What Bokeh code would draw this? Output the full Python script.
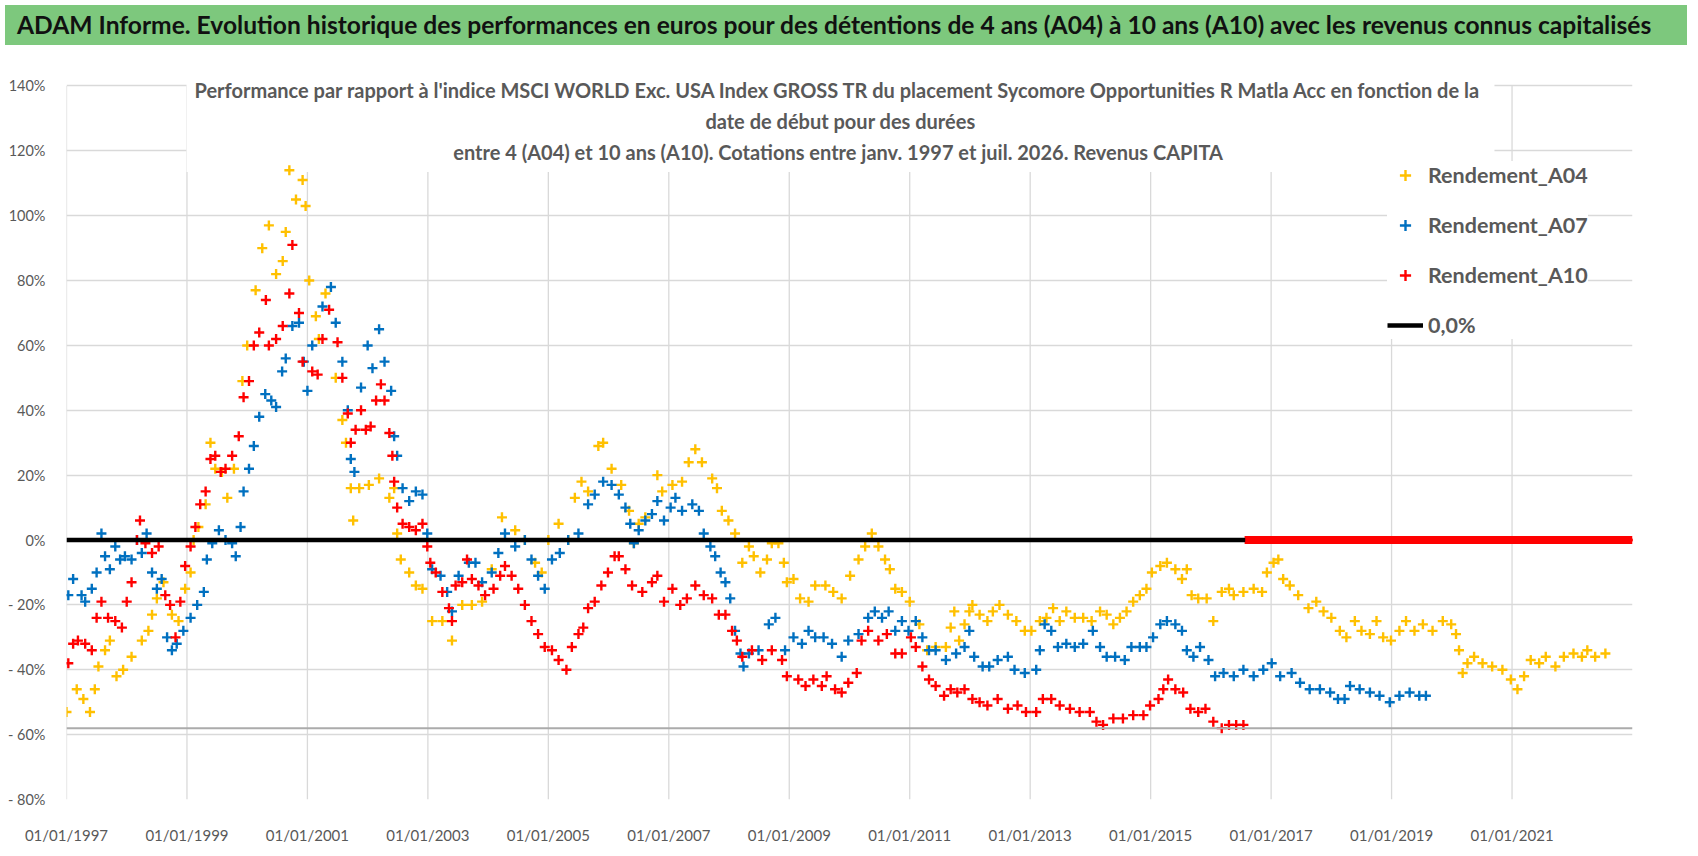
from bokeh.plotting import figure
from bokeh.layouts import column
from bokeh.models import Div, Label, Legend, LegendItem, Range1d, Span
from bokeh.embed import file_html
from bokeh.resources import INLINE

# ---- texts ----
title_text = ("ADAM Informe. Evolution historique des performances en euros pour des détentions "
              "de 4 ans (A04) à 10 ans (A10) avec les revenus connus capitalisés")
subtitle_lines = [
    "Performance par rapport à l'indice MSCI WORLD Exc. USA Index GROSS TR  du placement "
    "Sycomore Opportunities R Matla Acc en fonction de la",
    "date de début pour des durées",
    "entre 4 (A04) et 10 ans (A10).  Cotations entre janv. 1997 et juil. 2026. Revenus CAPITA",
]

# ---- axes ----
x_tick_years = [1997, 1999, 2001, 2003, 2005, 2007, 2009, 2011, 2013, 2015, 2017, 2019, 2021]
y_ticks = [-80, -60, -40, -20, 0, 20, 40, 60, 80, 100, 120, 140]

# ---- series (start date as decimal year, performance in %) ----
a04_points = [
    (1997.00, -53), (1997.17, -46), (1997.28, -49), (1997.39, -53), (1997.47, -46), (1997.53, -39),
    (1997.64, -34), (1997.72, -31), (1997.83, -42), (1997.94, -40),
    (1998.08, -36), (1998.25, -31), (1998.36, -28), (1998.42, -23), (1998.50, -18), (1998.61, -13),
    (1998.75, -23), (1998.86, -25), (1998.97, -15),
    (1999.06, -10), (1999.11, 0), (1999.19, 4), (1999.31, 11), (1999.39, 30), (1999.47, 22),
    (1999.58, 21), (1999.67, 13), (1999.78, 22), (1999.92, 49),
    (2000.00, 60), (2000.14, 77), (2000.25, 90), (2000.36, 97), (2000.48, 82), (2000.59, 86),
    (2000.64, 95), (2000.70, 114), (2000.81, 105), (2000.92, 111), (2000.97, 103),
    (2001.03, 80), (2001.14, 69), (2001.19, 62), (2001.30, 76), (2001.47, 50), (2001.58, 37),
    (2001.64, 30), (2001.72, 16), (2001.76, 6), (2001.86, 16),
    (2002.02, 17), (2002.19, 19), (2002.36, 13), (2002.44, 16), (2002.49, 2), (2002.55, -6),
    (2002.69, -10), (2002.80, -14), (2002.91, -15),
    (2003.07, -25), (2003.24, -25), (2003.40, -31), (2003.57, -20), (2003.73, -20), (2003.90, -19),
    (2004.06, -9), (2004.23, 7), (2004.45, 3), (2004.61, 0), (2004.78, -7), (2004.89, -10),
    (2005.00, 0), (2005.17, 5), (2005.33, 0), (2005.44, 13), (2005.55, 18), (2005.66, 15),
    (2005.83, 29), (2005.91, 30),
    (2006.05, 22), (2006.21, 17), (2006.34, 9), (2006.42, -1), (2006.50, 5), (2006.61, 7),
    (2006.81, 20), (2006.89, 15),
    (2007.06, 17), (2007.22, 18), (2007.33, 24), (2007.44, 28), (2007.55, 24), (2007.72, 19),
    (2007.80, 16), (2007.88, 9), (2007.99, 6),
    (2008.10, 2), (2008.22, -7), (2008.33, -2), (2008.41, -5), (2008.52, -10), (2008.63, -6),
    (2008.71, -1), (2008.82, -1), (2008.91, -7), (2008.96, -13),
    (2009.07, -12), (2009.18, -18), (2009.32, -19), (2009.43, -14), (2009.60, -14), (2009.73, -16),
    (2009.87, -18),
    (2010.01, -11), (2010.15, -6), (2010.26, -2), (2010.37, 2), (2010.48, -2), (2010.59, -6),
    (2010.67, -9), (2010.76, -15), (2010.87, -16),
    (2011.00, -19), (2011.16, -26), (2011.29, -34), (2011.43, -33), (2011.60, -33), (2011.68, -27),
    (2011.74, -22), (2011.82, -31), (2011.91, -26), (2011.99, -22),
    (2012.04, -20), (2012.16, -23), (2012.29, -25), (2012.38, -22), (2012.49, -20), (2012.63, -23),
    (2012.77, -25), (2012.91, -28),
    (2013.02, -28), (2013.16, -25), (2013.27, -24), (2013.38, -21), (2013.49, -25), (2013.60, -22),
    (2013.74, -24), (2013.88, -24),
    (2014.02, -25), (2014.16, -22), (2014.27, -23), (2014.38, -26), (2014.49, -24), (2014.60, -22),
    (2014.71, -19), (2014.82, -17), (2014.93, -15),
    (2015.02, -10), (2015.16, -8), (2015.27, -7), (2015.41, -9), (2015.52, -12), (2015.60, -9),
    (2015.68, -17), (2015.79, -18), (2015.93, -18),
    (2016.04, -25), (2016.18, -16), (2016.30, -15), (2016.38, -17), (2016.54, -16), (2016.71, -15),
    (2016.85, -16), (2016.93, -10),
    (2017.04, -7), (2017.12, -6), (2017.20, -12), (2017.31, -14), (2017.45, -17), (2017.62, -21),
    (2017.75, -19), (2017.87, -22),
    (2018.00, -24), (2018.14, -28), (2018.25, -30), (2018.39, -25), (2018.50, -28), (2018.64, -29),
    (2018.75, -25), (2018.86, -30), (2018.99, -31),
    (2019.13, -28), (2019.24, -25), (2019.38, -28), (2019.52, -26), (2019.68, -28), (2019.85, -25),
    (2019.99, -26),
    (2020.07, -29), (2020.12, -34), (2020.18, -41), (2020.26, -38), (2020.37, -36), (2020.51, -38),
    (2020.67, -39), (2020.84, -40), (2020.98, -43),
    (2021.09, -46), (2021.20, -42), (2021.31, -37), (2021.45, -38), (2021.56, -36), (2021.72, -39),
    (2021.86, -36),
    (2022.02, -35), (2022.16, -36), (2022.25, -34), (2022.38, -36), (2022.55, -35),
]

a07_points = [
    (1997.03, -17), (1997.11, -12), (1997.25, -17), (1997.31, -19), (1997.42, -15), (1997.50, -10),
    (1997.58, 2), (1997.64, -5), (1997.72, -9), (1997.81, -2), (1997.89, -6), (1997.97, -5),
    (1998.08, -6), (1998.17, 0), (1998.25, -4), (1998.33, 2), (1998.42, -10), (1998.50, -15),
    (1998.58, -12), (1998.67, -30), (1998.75, -34), (1998.83, -32), (1998.94, -28),
    (1999.06, -24), (1999.17, -20), (1999.28, -16), (1999.33, -6), (1999.42, -1), (1999.53, 3),
    (1999.64, 0), (1999.75, -1), (1999.81, -5), (1999.89, 4), (1999.94, 15),
    (2000.03, 22), (2000.11, 29), (2000.20, 38), (2000.30, 45), (2000.40, 43), (2000.48, 41),
    (2000.58, 52), (2000.64, 56), (2000.75, 66), (2000.86, 67), (2000.94, 55),
    (2001.00, 46), (2001.08, 60), (2001.25, 72), (2001.39, 78), (2001.47, 67), (2001.58, 55),
    (2001.67, 40), (2001.72, 25), (2001.78, 21), (2001.89, 47),
    (2002.00, 60), (2002.08, 53), (2002.19, 65), (2002.28, 55), (2002.39, 46), (2002.44, 32),
    (2002.49, 26), (2002.58, 16), (2002.69, 12), (2002.80, 15), (2002.91, 14), (2002.99, 2),
    (2003.07, -9), (2003.21, -11), (2003.32, -16), (2003.40, -22), (2003.51, -11), (2003.68, -7),
    (2003.79, -7), (2003.90, -13),
    (2004.06, -10), (2004.17, -4), (2004.28, 2), (2004.45, -2), (2004.61, 0), (2004.72, -6),
    (2004.83, -11), (2004.94, -15),
    (2005.06, -6), (2005.19, -4), (2005.33, 0), (2005.50, 2), (2005.66, 11), (2005.77, 14),
    (2005.91, 18),
    (2006.05, 17), (2006.17, 14), (2006.28, 10), (2006.36, 5), (2006.42, -1), (2006.50, 3),
    (2006.61, 6), (2006.72, 8), (2006.81, 12), (2006.92, 6),
    (2007.03, 10), (2007.11, 13), (2007.22, 9), (2007.39, 11), (2007.50, 9), (2007.58, 2),
    (2007.69, -2), (2007.77, -5), (2007.86, -10), (2007.94, -13),
    (2008.02, -18), (2008.10, -28), (2008.19, -35), (2008.24, -39), (2008.33, -35), (2008.49, -34),
    (2008.66, -26), (2008.77, -24), (2008.93, -34),
    (2009.07, -30), (2009.21, -32), (2009.32, -28), (2009.43, -30), (2009.57, -30), (2009.71, -32),
    (2009.87, -36), (2009.98, -31),
    (2010.15, -29), (2010.31, -24), (2010.42, -22), (2010.54, -24), (2010.65, -22), (2010.76, -28),
    (2010.87, -25), (2010.98, -28),
    (2011.10, -25), (2011.21, -30), (2011.32, -34), (2011.43, -34), (2011.60, -37), (2011.77, -35),
    (2011.91, -33), (2011.99, -28),
    (2012.07, -36), (2012.21, -39), (2012.32, -39), (2012.46, -37), (2012.63, -36), (2012.74, -40),
    (2012.91, -41),
    (2013.10, -40), (2013.16, -34), (2013.24, -26), (2013.35, -28), (2013.46, -33), (2013.60, -32),
    (2013.74, -33), (2013.88, -32),
    (2014.04, -28), (2014.16, -33), (2014.27, -36), (2014.41, -36), (2014.57, -37), (2014.68, -33),
    (2014.82, -33), (2014.93, -33),
    (2015.04, -30), (2015.16, -26), (2015.27, -25), (2015.41, -26), (2015.52, -28), (2015.60, -34),
    (2015.71, -36), (2015.82, -33), (2015.96, -37),
    (2016.07, -42), (2016.21, -41), (2016.38, -42), (2016.54, -40), (2016.71, -42), (2016.87, -40),
    (2017.01, -38), (2017.15, -42), (2017.34, -41), (2017.48, -44), (2017.64, -46), (2017.81, -46),
    (2017.98, -47),
    (2018.11, -49), (2018.22, -49), (2018.31, -45), (2018.47, -46), (2018.64, -47), (2018.80, -48),
    (2018.97, -50),
    (2019.13, -48), (2019.30, -47), (2019.46, -48), (2019.57, -48),
]

a10_points = [
    (1997.03, -38), (1997.11, -32), (1997.19, -31), (1997.31, -32), (1997.42, -34), (1997.50, -24),
    (1997.58, -19), (1997.69, -24), (1997.81, -25), (1997.92, -27),
    (1998.00, -19), (1998.08, -13), (1998.17, 0), (1998.22, 6), (1998.31, -1), (1998.42, -4),
    (1998.53, -2), (1998.64, -17), (1998.72, -20), (1998.81, -30), (1998.89, -19), (1998.97, -8),
    (1999.06, -2), (1999.14, 4), (1999.22, 11), (1999.31, 15), (1999.39, 25), (1999.47, 26),
    (1999.56, 21), (1999.64, 22), (1999.75, 26), (1999.86, 32), (1999.94, 44),
    (2000.03, 49), (2000.11, 60), (2000.20, 64), (2000.31, 74), (2000.36, 60), (2000.48, 62),
    (2000.59, 66), (2000.70, 76), (2000.75, 91), (2000.86, 70), (2000.92, 55),
    (2001.08, 52), (2001.17, 51), (2001.25, 62), (2001.36, 71), (2001.50, 61), (2001.58, 50),
    (2001.67, 39), (2001.72, 30), (2001.80, 34), (2001.89, 40), (2001.97, 34),
    (2002.05, 35), (2002.14, 43), (2002.22, 48), (2002.28, 43), (2002.36, 33), (2002.41, 26),
    (2002.44, 18), (2002.49, 10), (2002.58, 5), (2002.69, 4), (2002.80, 3), (2002.91, 5),
    (2002.99, -2),
    (2003.04, -7), (2003.13, -10), (2003.24, -16), (2003.35, -21), (2003.40, -25), (2003.46, -14),
    (2003.57, -13), (2003.65, -6), (2003.73, -12), (2003.84, -14), (2003.95, -17),
    (2004.09, -15), (2004.20, -11), (2004.28, -8), (2004.39, -11), (2004.50, -15), (2004.61, -20),
    (2004.72, -25), (2004.83, -29), (2004.94, -33),
    (2005.06, -34), (2005.17, -37), (2005.30, -40), (2005.39, -33), (2005.50, -29), (2005.58, -27),
    (2005.66, -21), (2005.77, -19), (2005.88, -14), (2005.99, -10),
    (2006.10, -5), (2006.17, -5), (2006.28, -9), (2006.39, -14), (2006.56, -16), (2006.72, -13),
    (2006.81, -11), (2006.92, -19),
    (2007.06, -15), (2007.19, -20), (2007.30, -18), (2007.44, -14), (2007.58, -17), (2007.72, -18),
    (2007.83, -23), (2007.94, -23),
    (2008.05, -28), (2008.13, -31), (2008.22, -36), (2008.38, -34), (2008.55, -37), (2008.71, -34),
    (2008.88, -37), (2008.96, -42),
    (2009.15, -43), (2009.27, -45), (2009.40, -43), (2009.54, -45), (2009.62, -42), (2009.76, -46),
    (2009.87, -47), (2009.98, -44),
    (2010.12, -41), (2010.20, -31), (2010.31, -28), (2010.48, -31), (2010.62, -29), (2010.76, -35),
    (2010.87, -35),
    (2011.02, -30), (2011.10, -33), (2011.21, -39), (2011.32, -43), (2011.43, -45), (2011.57, -48),
    (2011.68, -46), (2011.79, -47), (2011.91, -46),
    (2012.04, -49), (2012.16, -50), (2012.29, -51), (2012.46, -49), (2012.63, -52), (2012.79, -51),
    (2012.93, -53),
    (2013.10, -53), (2013.21, -49), (2013.35, -49), (2013.49, -51), (2013.66, -52), (2013.82, -53),
    (2013.99, -53),
    (2014.10, -56), (2014.21, -57), (2014.38, -55), (2014.54, -55), (2014.71, -54), (2014.88, -54),
    (2014.99, -51),
    (2015.13, -49), (2015.21, -46), (2015.29, -43), (2015.41, -46), (2015.54, -47), (2015.66, -52),
    (2015.79, -53), (2015.91, -52),
    (2016.04, -56), (2016.18, -58), (2016.30, -57), (2016.42, -57), (2016.54, -57),
]

# after mid-2016 the 10-year return is shown flat at 0 %
a10_flat_start, a10_flat_end, a10_flat_value = 2016.58, 2022.98, 0.0

# the 0,0% reference series and the minimum line
zero_line_years = [1997.0, 2016.57]
zero_line_values = [0.0, 0.0]
floor_level = -58.0

GREY = "#595959"
FONT = "Lato"


def split(points):
    return [pt[0] for pt in points], [pt[1] for pt in points]


header = Div(
    text='<div style="font-family:Lato;font-weight:bold;font-size:24.6px;line-height:40px;'
         'color:#111111;padding-left:12px;white-space:nowrap;">{}</div>'.format(title_text),
    width=1682, height=40, styles={"background-color": "#7DC87D"})

# y range runs a little above 140 % so the subtitle (which sits on the 140 % line) is not clipped
p = figure(width=1682, height=796, output_backend="svg", toolbar_location=None,
           x_range=Range1d(1997.0, 2023.0), y_range=Range1d(-80, 146),
           min_border_left=66, min_border_right=50, min_border_top=16, min_border_bottom=42)
p.outline_line_color = None
p.background_fill_color = "white"
p.border_fill_color = "white"

# axes
p.xaxis.ticker = x_tick_years
p.xaxis.major_label_overrides = {y: "01/01/{}".format(y) for y in x_tick_years}
p.yaxis.ticker = y_ticks
p.yaxis.major_label_overrides = {v: ("{}%".format(v) if v >= 0 else "- {}%".format(-v)) for v in y_ticks}
for ax in (p.xaxis, p.yaxis):
    ax.axis_line_color = None
    ax.major_tick_line_color = None
    ax.minor_tick_line_color = None
    ax.major_label_text_font = FONT
    ax.major_label_text_color = GREY
p.xaxis.major_label_text_font_size = "15px"
p.xaxis.major_label_standoff = 20
p.yaxis.major_label_text_font_size = "14.5px"
p.yaxis.major_label_standoff = 15

# grid: horizontal from the axis, vertical ones stop at the 140 % line like in Excel
p.xgrid.grid_line_color = None
p.ygrid.grid_line_color = "#D9D9D9"
p.ygrid.grid_line_width = 1.3
p.segment(x0=x_tick_years, y0=[y_ticks[0]] * len(x_tick_years),
          x1=x_tick_years, y1=[y_ticks[-1]] * len(x_tick_years),
          line_color="#D9D9D9", line_width=1.3, level="underlay")

p.add_layout(Span(location=floor_level, dimension="width", line_color="#ABABAB", line_width=2))

# series
x04, y04 = split(a04_points)
x07, y07 = split(a07_points)
x10, y10 = split(a10_points)
marker = dict(marker="cross", size=10, line_width=2.4)
r04 = p.scatter(x04, y04, line_color="#FFC000", **marker)
r07 = p.scatter(x07, y07, line_color="#0070C0", **marker)
r10 = p.scatter(x10, y10, line_color="#FF0000", **marker)

n_flat = int(round((a10_flat_end - a10_flat_start) / 0.02)) + 1
flat_x = [a10_flat_start + i * 0.02 for i in range(n_flat)]
p.scatter(flat_x, [a10_flat_value] * n_flat, marker="cross", size=8, line_width=2.4, line_color="#FF0000")

r0 = p.line(zero_line_years, zero_line_values, line_color="black", line_width=4.5)

# subtitle, centred over the plot; its white box hides the grid but stays under the points
p.add_layout(Label(x=774, y=730, x_units="screen", y_units="screen",
                   text="\n".join(subtitle_lines), text_align="center", text_baseline="top",
                   text_font=FONT, text_font_style="bold", text_font_size="20px",
                   text_color=GREY, text_line_height=1.3,
                   background_fill_color="white", padding=8, level="underlay"))

legend = Legend(items=[
    LegendItem(label="Rendement_A04", renderers=[r04]),
    LegendItem(label="Rendement_A07", renderers=[r07]),
    LegendItem(label="Rendement_A10", renderers=[r10]),
    LegendItem(label="0,0%", renderers=[r0]),
], location=(1321, 460))
legend.label_text_font = FONT
legend.label_text_font_style = "bold"
legend.label_text_font_size = "21.5px"
legend.label_text_color = GREY
legend.glyph_width = 36
legend.glyph_height = 28
legend.label_height = 28
legend.label_standoff = 5
legend.spacing = 22
legend.padding = 10
legend.margin = 0
legend.border_line_color = None
legend.background_fill_color = "white"
legend.background_fill_alpha = 1.0
p.add_layout(legend)

layout = column(header, p)
open("out.html", "w").write(file_html(layout, INLINE))
